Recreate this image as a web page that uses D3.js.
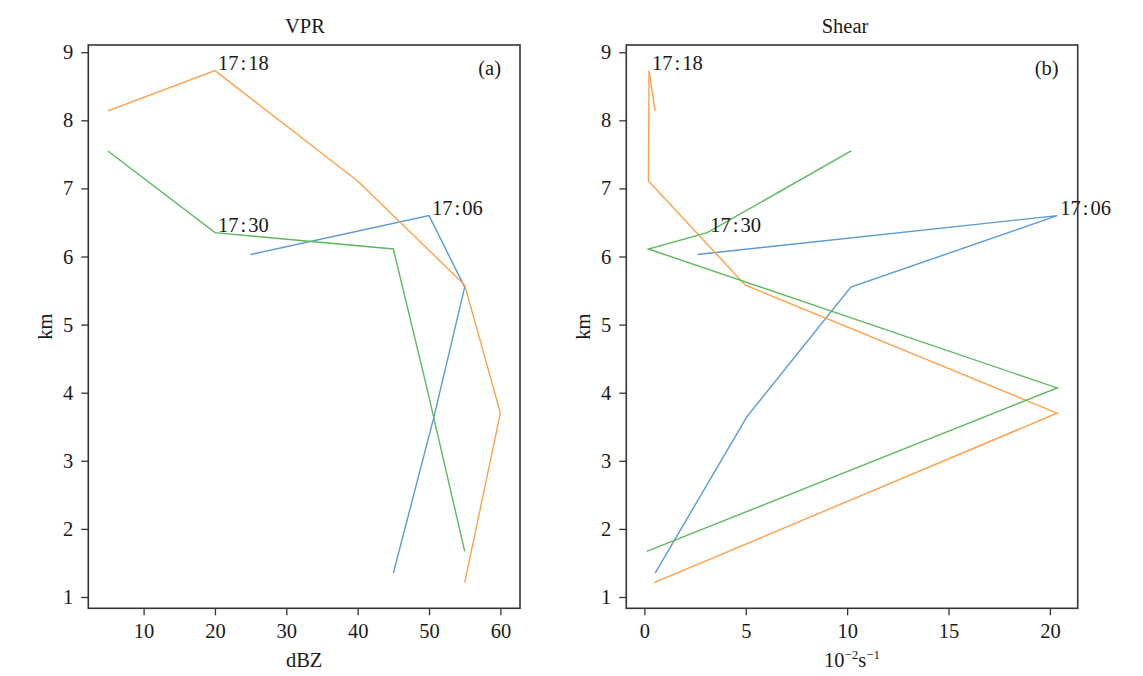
<!DOCTYPE html>
<html>
<head>
<meta charset="utf-8">
<script src="https://cdn.jsdelivr.net/npm/d3@7"></script>
<style>
  body { margin: 0; background: #fff; }
  text { font-family: "Liberation Serif", "Times New Roman", serif; fill: #1a1a1a; }
</style>
</head>
<body>
<script>
// heights (km) for each time, shared by both panels
var times = ["17:06", "17:18", "17:30"];
var colors = ["#5b9bd3", "#ffa048", "#5cb95c"];

var h1706 = [6.03, 6.60, 5.55, 3.65, 1.35];
var h1718 = [8.14, 8.73, 7.11, 5.58, 3.70, 1.21];
var h1730 = [7.55, 6.35, 6.11, 4.07, 1.67];

// VPR (dBZ)
var vpr1706 = [25, 50, 55, 50.7, 45];
var vpr1718 = [5, 20, 40, 55, 60, 55];
var vpr1730 = [5, 20, 45, 49.7, 55];

// shear (10^-2 s^-1)
var shear1706 = [2.62, 20.36, 10.18, 5.06, 0.53];
var shear1718 = [0.53, 0.23, 0.20, 4.98, 20.36, 0.48];
var shear1730 = [10.2, 3.1, 0.20, 20.36, 0.12];

var yTicks = [1, 2, 3, 4, 5, 6, 7, 8, 9];
var vprTicks = [10, 20, 30, 40, 50, 60];
var shearTicks = [0, 5, 10, 15, 20];

var heights = [h1706, h1718, h1730];
var labelAt = [1, 1, 1];

var W = 1143, H = 676;
var plotTop = 45, plotBottom = 608.3;

var svg = d3.select("body").append("svg")
    .attr("width", W)
    .attr("height", H);

// matplotlib style 5% margins
function padded(arr) {
  var e = d3.extent(arr), p = (e[1] - e[0]) * 0.05;
  return [e[0] - p, e[1] + p];
}

var allH = d3.merge(heights);
var y = d3.scaleLinear().domain(padded(allH)).range([plotBottom, plotTop]);

function panel(x0, x1, series, ticks, title, titleX, tag, xlabel, ylabelX) {
  var x = d3.scaleLinear().domain(padded(d3.merge(series))).range([x0, x1]);
  var g = svg.append("g");

  var line = d3.line()
      .x(function(d) { return x(d[0]); })
      .y(function(d) { return y(d[1]); });

  series.forEach(function(vals, i) {
    var pts = vals.map(function(v, j) { return [v, heights[i][j]]; });
    g.append("path")
        .datum(pts)
        .attr("d", line)
        .attr("fill", "none")
        .attr("stroke", colors[i])
        .attr("stroke-width", 1.4);
  });

  // time labels
  series.forEach(function(vals, i) {
    var k = labelAt[i];
    var parts = times[i].split(":");
    var t = g.append("text")
        .attr("x", x(vals[k]) + 3)
        .attr("y", y(heights[i][k]) - 1)
        .style("font-size", "20.5px");
    t.append("tspan").text(parts[0]);
    t.append("tspan").attr("dx", 2).text(":");
    t.append("tspan").attr("dx", 2).text(parts[1]);
  });

  var ax = g.append("g")
      .attr("transform", "translate(0," + plotBottom + ")")
      .call(d3.axisBottom(x).tickValues(ticks).tickSize(7).tickPadding(8).tickSizeOuter(0));
  var ay = g.append("g")
      .attr("transform", "translate(" + x0 + ",0)")
      .call(d3.axisLeft(y).tickValues(yTicks).tickSize(7).tickPadding(8).tickSizeOuter(0));
  [ax, ay].forEach(function(a) {
    a.select(".domain").remove();
    a.selectAll("line").attr("stroke", "#333").attr("stroke-width", 1.3);
    a.selectAll("text")
        .style("font-family", "Liberation Serif")
        .style("font-size", "20.5px")
        .attr("fill", "#1a1a1a");
  });

  g.append("rect")
      .attr("x", x0).attr("y", plotTop)
      .attr("width", x1 - x0).attr("height", plotBottom - plotTop)
      .attr("fill", "none")
      .attr("stroke", "#333")
      .attr("stroke-width", 1.6);

  g.append("text")
      .attr("x", titleX).attr("y", 33)
      .attr("text-anchor", "middle")
      .style("font-size", "20.5px")
      .text(title);

  g.append("text")
      .attr("x", x1 - 19).attr("y", 75)
      .attr("text-anchor", "end")
      .style("font-size", "20.5px")
      .text(tag);

  var xl = g.append("text")
      .attr("x", (x0 + x1) / 2).attr("y", 667)
      .attr("text-anchor", "middle")
      .style("font-size", "20.5px");
  xlabel(xl);

  g.append("text")
      .attr("transform", "translate(" + ylabelX + "," + (plotTop + plotBottom) / 2 + ") rotate(-90)")
      .attr("text-anchor", "middle")
      .style("font-size", "20.5px")
      .text("km");
}

panel(88.3, 520, [vpr1706, vpr1718, vpr1730], vprTicks, "VPR", 305, "(a)",
  function(t) { t.text("dBZ"); }, 52);

panel(626.3, 1077.7, [shear1706, shear1718, shear1730], shearTicks, "Shear", 845, "(b)",
  function(t) {
    t.append("tspan").text("10");
    t.append("tspan").attr("dy", -8).style("font-size", "13px").text("\u22122");
    t.append("tspan").attr("dy", 8).text("s");
    t.append("tspan").attr("dy", -8).style("font-size", "13px").text("\u22121");
  }, 590);
</script>
</body>
</html>
